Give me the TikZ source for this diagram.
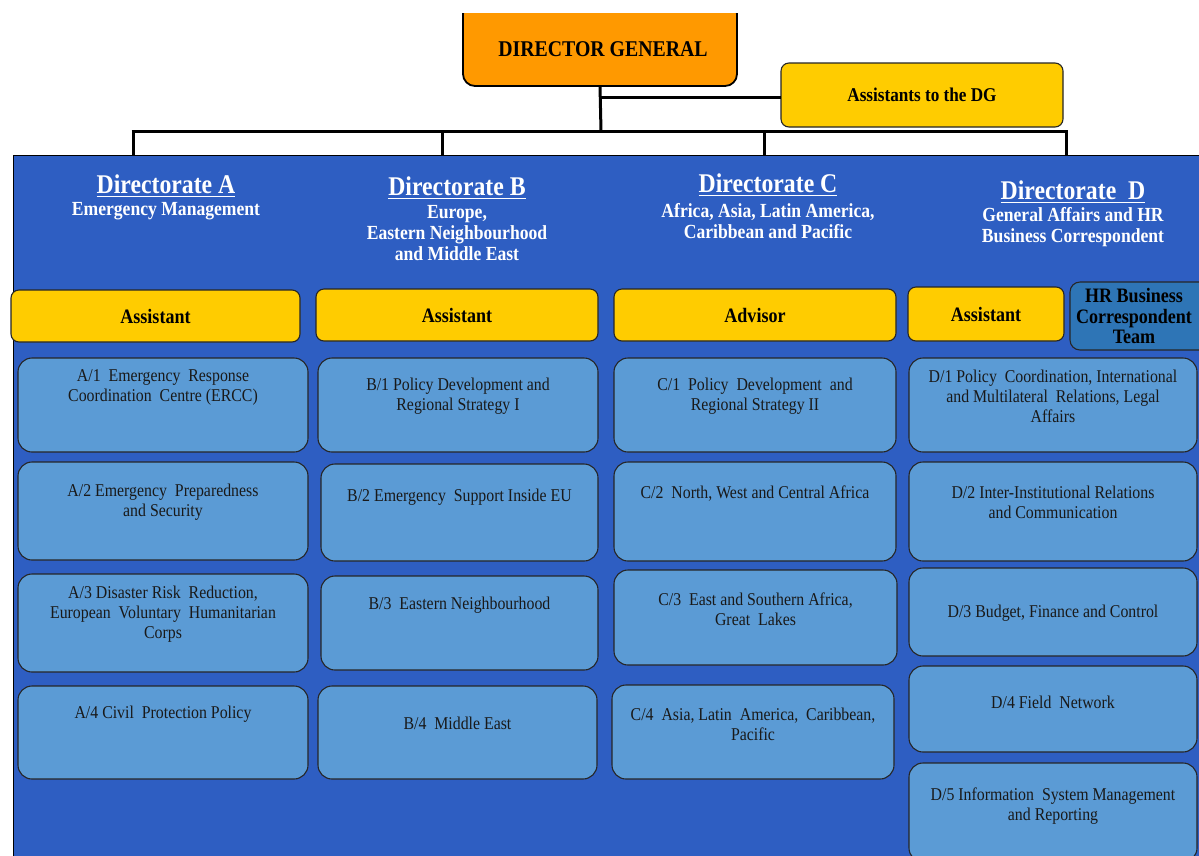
\documentclass[tikz,border=0pt]{standalone}
\usepackage{fontspec}
\setmainfont{Liberation Serif}[FakeStretch=0.88]
\usetikzlibrary{calc}

\definecolor{panelblue}{HTML}{2E5EC2}
\definecolor{unitblue}{HTML}{5B9BD5}
\definecolor{hrblue}{HTML}{2E75B6}
\definecolor{goldbox}{HTML}{FFCC00}
\definecolor{dgorange}{HTML}{FF9900}

% underlined directorate heading
\newcommand\ulhead[1]{\setbox0=\hbox{#1}\rlap{\rule[-4pt]{\wd0}{1.8pt}}\box0}

% unit box: name, x1, y1, x2, y2, text centre y, text
\newcommand\orgunit[7]{%
  \node[unitbox, minimum width={(#4-#2)*1pt}, minimum height={(#5-#3)*1pt}]
    (#1) at ({(#2+#4)/2},{(#3+#5)/2}) {};
  \node[unittext] (#1t) at ({(#2+#4)/2},#6) {#7};}

% filled box with centred text: style, name, x1, y1, x2, y2, text
\newcommand\textbox[7]{%
  \node[#1, minimum width={(#5-#3)*1pt}, minimum height={(#6-#4)*1pt}]
    (#2) at ({(#3+#5)/2},{(#4+#6)/2}) {#7};}

\tikzset{
  every node/.style={inner sep=0pt, outer sep=0pt},
  unitbox/.style={draw=black!85, line width=1.1pt, fill=unitblue, rounded corners=14pt},
  unittext/.style={align=center, text=black!90, font=\fontsize{18}{20}\selectfont},
  assist/.style={draw=black!85, line width=1.1pt, fill=goldbox, rounded corners=8pt,
    align=center, font=\fontsize{20.5}{20.5}\selectfont\bfseries},
  hrbox/.style={draw=black!85, line width=1.1pt, fill=hrblue, rounded corners=10pt,
    align=center, font=\fontsize{20.5}{20.5}\selectfont\bfseries},
  dgbox/.style={draw=black, line width=1.8pt, fill=dgorange, rounded corners=12pt,
    font=\fontsize{22.5}{24}\selectfont\bfseries},
  dirtitle/.style={text=white, font=\fontsize{27}{30}\selectfont\bfseries},
  dirsub/.style={text=white, align=center, font=\fontsize{20}{21}\selectfont\bfseries},
  link/.style={draw=black, line width=3pt},
}

\begin{document}
\begin{tikzpicture}[x=1pt, y=-1pt]
\useasboundingbox (0,0) rectangle (1199,855);
\fill[white] (0,0) rectangle (1199,855);
\begin{scope}
\clip (0,13) rectangle (1199,855);

% top management
\textbox{dgbox}{dg}{463}{2}{737}{86}{}
\node[dgbox, draw=none, fill=none] (dgt) at (603,49) {DIRECTOR GENERAL};
\textbox{assist}{adg}{781}{63}{1063}{127}{\fontsize{19.5}{20}\selectfont Assistants to the DG}

% directorate panel
\node[draw=black, line width=0.8pt, fill=panelblue, minimum width=1200pt, minimum height=720pt,
  anchor=north west] (panel) at (13,155) {};

% connectors
\coordinate (hub) at (601,131);
\coordinate (jA) at (133,131);
\coordinate (jB) at (442,131);
\coordinate (jC) at (764,131);
\coordinate (jD) at (1066,131);
\draw[link] (dg.south) -- (hub);
\draw[link] (dg.south |- 0,97) -- (adg.west |- 0,97);
\draw[link] ([xshift=-1.5pt]jA) -- ([xshift=1.5pt]jD);
\draw[link] (jA) -- (jA |- panel.north);
\draw[link] (jB) -- (jB |- panel.north);
\draw[link] (jC) -- (jC |- panel.north);
\draw[link] (jD) -- (jD |- panel.north);

% directorate headings
\node[dirtitle] (hA) at (166,186) {\ulhead{Directorate A}};
\node[dirsub] (sA) at (166,211) {Emergency Management};
\node[dirtitle] (hB) at (457,188) {\ulhead{Directorate B}};
\node[dirsub] (sB) at (457,233.5) {Europe,\\Eastern Neighbourhood\\and Middle\ East};
\node[dirtitle] (hC) at (768,185) {\ulhead{Directorate C}};
\node[dirsub] (sC) at (768,221) {Africa, Asia, Latin America,\\Caribbean and Pacific};
\node[dirtitle] (hD) at (1073,192) {\ulhead{Directorate\ \ D}};
\node[dirsub] (sD) at (1073,227.5) {General Affairs and HR\\Business Correspondent};

% assistants and advisors
\textbox{assist}{asA}{11}{290}{300}{342}{Assistant}
\textbox{assist}{asB}{316}{289}{598}{341}{Assistant}
\textbox{assist}{adC}{614}{289}{896}{341}{Advisor}
\textbox{assist}{asD}{908}{287}{1064}{341}{Assistant}
\textbox{hrbox}{hrD}{1070}{282}{1210}{350}{}
\node[hrbox, draw=none, fill=none] (hrDt) at (1134,316) {HR Business\\Correspondent\\Team};

% Directorate A units
\orgunit{a1}{18}{358}{308}{452}{387}{A/1\ \ Emergency\ \ Response\\Coordination\ \ Centre (ERCC)}
\orgunit{a2}{18}{462}{308}{560}{502}{A/2 Emergency\ \ Preparedness\\and Security}
\orgunit{a3}{18}{574}{308}{672}{614}{A/3 Disaster Risk\ \ Reduction,\\European\ \ Voluntary\ \ Humanitarian\\Corps}
\orgunit{a4}{18}{686}{308}{779}{714}{A/4 Civil\ \ Protection Policy}

% Directorate B units
\orgunit{b1}{318}{358}{598}{452}{396}{B/1 Policy Development and\\Regional Strategy I}
\orgunit{b2}{321}{464}{598}{561}{497}{B/2 Emergency\ \ Support Inside EU}
\orgunit{b3}{321}{576}{598}{670}{605}{B/3\ \ Eastern Neighbourhood}
\orgunit{b4}{318}{686}{597}{779}{723}{B/4\ \ Middle East}

% Directorate C units
\orgunit{c1}{614}{358}{896}{452}{396}{C/1\ \ Policy\ \ Development\ \ and\\Regional Strategy II}
\orgunit{c2}{614}{462}{896}{561}{494}{C/2\ \ North, West and Central Africa}
\orgunit{c3}{614}{570}{897}{665}{609}{C/3\ \ East and Southern Africa,\\Great\ \ Lakes}
\orgunit{c4}{612}{685}{894}{779}{724}{C/4\ \ Asia, Latin\ \ America,\ \ Caribbean,\\Pacific}

% Directorate D units
\orgunit{d1}{909}{358}{1197}{452}{396}{D/1 Policy\ \ Coordination, International\\and Multilateral\ \ Relations, Legal\\Affairs}
\orgunit{d2}{909}{462}{1197}{561}{502}{D/2 Inter-Institutional Relations\\and Communication}
\orgunit{d3}{909}{568}{1197}{656}{613}{D/3 Budget, Finance and Control}
\orgunit{d4}{909}{666}{1197}{752}{702}{D/4 Field\ \ Network}
\orgunit{d5}{909}{763}{1197}{862}{806}{D/5 Information\ \ System Management\\and Reporting}
\end{scope}
\end{tikzpicture}
\end{document}
